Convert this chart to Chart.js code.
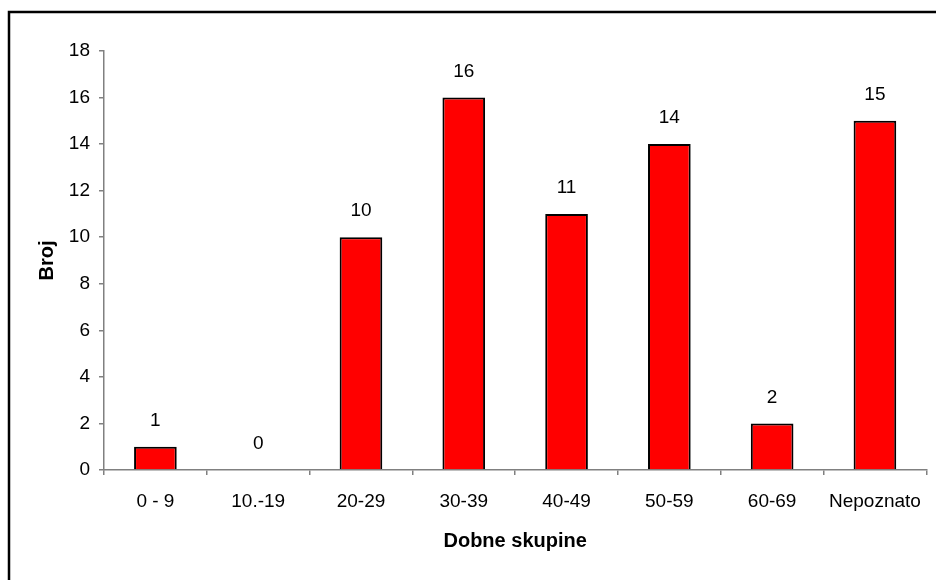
<!DOCTYPE html>
<html>
<head>
<meta charset="utf-8">
<script src="https://cdn.jsdelivr.net/npm/chart.js@4/dist/chart.umd.min.js"></script>
<style>
  html, body { margin: 0; padding: 0; background: #fff; }
  #wrap { width: 936px; height: 580px; position: relative; }
</style>
</head>
<body>
<div id="wrap"><canvas id="chart"></canvas></div>
<script>
// age groups and counts
const categories = ["0 - 9", "10.-19", "20-29", "30-39", "40-49", "50-59", "60-69", "Nepoznato"];
const counts = [1, 0, 10, 16, 11, 14, 2, 15];
const yMin = 0;
const yMax = 18;
const yStep = 2;

const axisGrey = "#808080";
const fontFamily = "'Liberation Sans', Arial, sans-serif";

// outer frame, only the top and left edges show in the picture
const framePlugin = {
    id: "frame",
    beforeDraw(chart) {
        const ctx = chart.ctx;
        ctx.save();
        ctx.strokeStyle = "#000";
        ctx.lineWidth = 2.5;
        ctx.beginPath();
        ctx.moveTo(9, 600);
        ctx.lineTo(9, 12);
        ctx.lineTo(960, 12);
        ctx.stroke();
        ctx.restore();
    }
};

// value labels above each bar
const valueLabels = {
    id: "valueLabels",
    afterDatasetsDraw(chart) {
        const ctx = chart.ctx;
        const meta = chart.getDatasetMeta(0);
        ctx.save();
        ctx.fillStyle = "#000";
        ctx.font = "19px " + fontFamily;
        ctx.textAlign = "center";
        ctx.textBaseline = "middle";
        meta.data.forEach((bar, i) => {
            ctx.fillText(String(counts[i]), bar.x, bar.y - 26);
        });
        ctx.restore();
    }
};

new Chart(document.getElementById("chart"), {
    type: "bar",
    data: {
        labels: categories,
        datasets: [{
            data: counts,
            backgroundColor: "#ff0000",
            borderColor: "#000",
            borderWidth: 2,
            barPercentage: 0.415,
            categoryPercentage: 1
        }]
    },
    options: {
        responsive: true,
        maintainAspectRatio: false,
        animation: false,
        layout: { padding: { top: 51, right: 2, left: 0, bottom: 0 } },
        plugins: {
            legend: { display: false },
            tooltip: { enabled: false }
        },
        scales: {
            x: {
                grid: {
                    offset: true,
                    drawOnChartArea: false,
                    drawTicks: true,
                    tickLength: 5,
                    color: axisGrey,
                    lineWidth: 1.5
                },
                border: { display: true, color: axisGrey, width: 1.5 },
                ticks: {
                    color: "#000",
                    font: { family: fontFamily, size: 19 },
                    padding: 15,
                    maxRotation: 0,
                    autoSkip: false
                },
                title: {
                    display: true,
                    text: "Dobne skupine",
                    color: "#000",
                    font: { family: fontFamily, size: 20, weight: "bold" },
                    padding: { top: 0, bottom: 27 }
                },
                afterFit(scale) { scale.height = 110; }
            },
            y: {
                min: yMin,
                max: yMax,
                grid: {
                    drawOnChartArea: false,
                    drawTicks: true,
                    tickLength: 5,
                    color: axisGrey,
                    lineWidth: 1.5
                },
                border: { display: true, color: axisGrey, width: 1.5 },
                ticks: {
                    stepSize: yStep,
                    color: "#000",
                    font: { family: fontFamily, size: 19 },
                    padding: 9
                },
                title: {
                    display: true,
                    text: "Broj",
                    color: "#000",
                    font: { family: fontFamily, size: 20, weight: "bold" },
                    padding: { top: 35, bottom: 0 }
                },
                afterFit(scale) { scale.width = 104; }
            }
        }
    },
    plugins: [framePlugin, valueLabels]
});
</script>
</body>
</html>
